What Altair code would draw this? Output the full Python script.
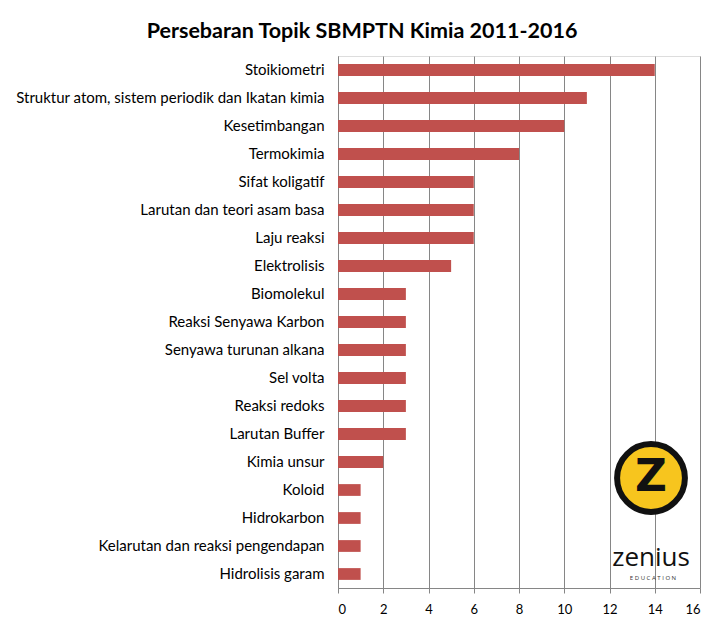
import altair as alt
import pandas as pd

topics = [
    "Stoikiometri",
    "Struktur atom, sistem periodik dan Ikatan kimia",
    "Kesetimbangan",
    "Termokimia",
    "Sifat koligatif",
    "Larutan dan teori asam basa",
    "Laju reaksi",
    "Elektrolisis",
    "Biomolekul",
    "Reaksi Senyawa Karbon",
    "Senyawa turunan alkana",
    "Sel volta",
    "Reaksi redoks",
    "Larutan Buffer",
    "Kimia unsur",
    "Koloid",
    "Hidrokarbon",
    "Kelarutan dan reaksi pengendapan",
    "Hidrolisis garam",
]
counts = [14, 11, 10, 8, 6, 6, 6, 5, 3, 3, 3, 3, 3, 3, 2, 1, 1, 1, 1]
x_ticks = [0, 2, 4, 6, 8, 10, 12, 14, 16]

df = pd.DataFrame({"topic": topics, "count": counts})

FONT = "Lato"
GREY = "#868686"

bars = alt.Chart(df).mark_bar(color="#c0504d").encode(
    x=alt.X(
        "count:Q",
        scale=alt.Scale(domain=[0, 16]),
        axis=alt.Axis(
            values=x_ticks,
            title=None,
            grid=True,
            gridColor=GREY,
            gridOpacity=1,
            domainColor=GREY,
            tickColor=GREY,
            tickSize=5,
            labelPadding=10,
            labelFontSize=13,
            labelColor="#000000",
            labelFont=FONT,
        ),
    ),
    y=alt.Y(
        "topic:N",
        sort=topics,
        scale=alt.Scale(paddingInner=0.58, paddingOuter=0.29),
        axis=alt.Axis(
            title=None,
            ticks=False,
            domainColor=GREY,
            labelPadding=14,
            labelFontSize=15,
            labelColor="#000000",
            labelFont=FONT,
            labelLimit=400,
        ),
    ),
)

logo = alt.Chart(pd.DataFrame({"k": [1]})).mark_point(
    shape="circle", filled=True, fill="#f7c51e", stroke="#111111",
    strokeWidth=6, opacity=1, size=4600
).encode(x=alt.value(313), y=alt.value(422))

logo_z = alt.Chart(pd.DataFrame({"t": ["Z"]})).mark_text(
    font="DejaVu Sans", fontSize=44, fontWeight="bold", color="#111111",
    align="center", baseline="middle"
).encode(text="t:N", x=alt.value(313), y=alt.value(422))

brand = alt.Chart(pd.DataFrame({"t": ["zenius"]})).mark_text(
    font="Open Sans", fontSize=26, color="#111111", align="center",
    baseline="alphabetic"
).encode(text="t:N", x=alt.value(313), y=alt.value(510))

brand2 = alt.Chart(pd.DataFrame({"t": ["E D U C A T I O N"]})).mark_text(
    font="Open Sans", fontSize=6, color="#333333", align="center",
    baseline="top"
).encode(text="t:N", x=alt.value(315), y=alt.value(519))

chart = alt.layer(bars, logo, logo_z, brand, brand2).properties(
    width=362,
    height=532,
    title=alt.Title(
        "Persebaran Topik SBMPTN Kimia 2011-2016",
        font=FONT,
        fontSize=21.5,
        fontWeight="bold",
        color="#000000",
        anchor="middle",
        dx=-157,
        offset=14,
    ),
    autosize=alt.AutoSizeParams(type="none"),
    padding={"left": 330, "top": 48, "right": 10, "bottom": 30},
).configure_view(stroke=None).configure(background="white")

chart.save("out.html", embed_options={"renderer": "svg", "actions": False})
